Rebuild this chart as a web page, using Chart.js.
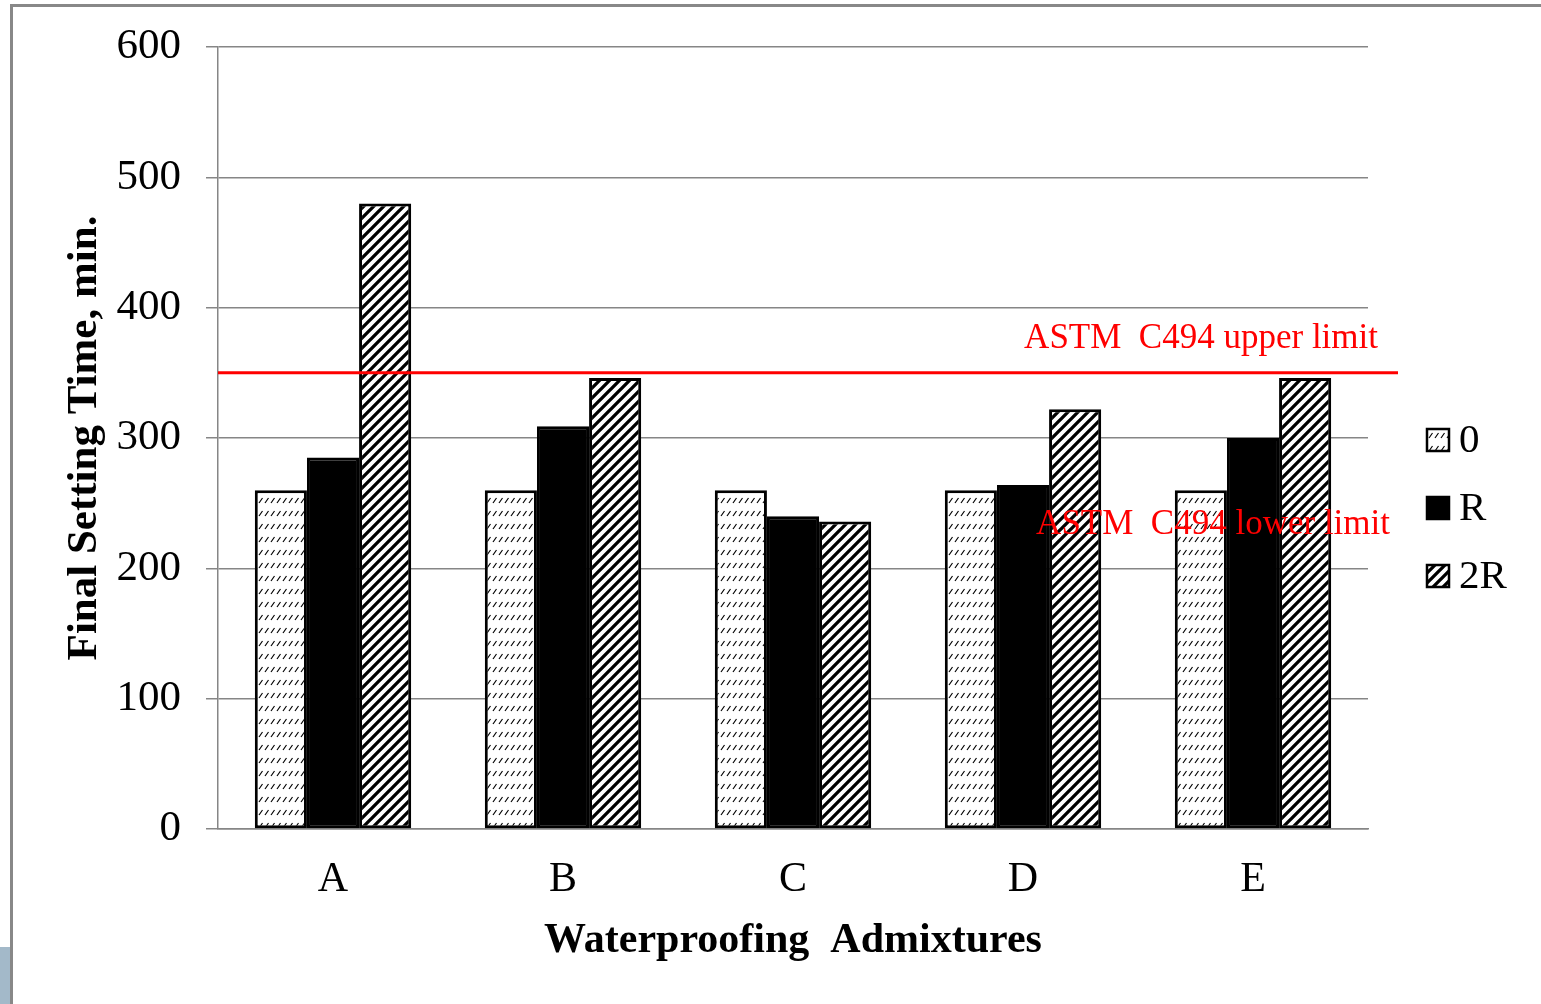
<!DOCTYPE html>
<html>
<head>
<meta charset="utf-8">
<script src="https://cdn.jsdelivr.net/npm/chart.js@4.4.0/dist/chart.umd.min.js"></script>
<style>
  body { margin: 0; background: #fff; }
  #wrap { position: relative; width: 1541px; height: 1004px; overflow: hidden; }
  #frame { position: absolute; left: 10px; top: 4px; right: -10px; bottom: -10px; border-top: 3px solid #888; border-left: 3px solid #888; }
  #tab { position: absolute; left: 0; top: 947px; width: 10px; height: 57px; background: #a3b9c9; }
  canvas { position: absolute; left: 0; top: 0; }
</style>
</head>
<body>
<div id="wrap">
  <div id="frame"></div>
  <div id="tab"></div>
  <canvas id="chart" width="1541" height="1004"></canvas>
</div>
<script>
// data
const categories = ["A", "B", "C", "D", "E"];
const seriesNames = ["0", "R", "2R"];
const values0 = [260, 260, 260, 260, 260];
const valuesR = [285, 309, 240, 264, 300];
const values2R = [480, 346, 236, 322, 346];
const yTicks = [0, 100, 200, 300, 400, 500, 600];
const upperLimit = 350;
const upperLabel = "ASTM  C494 upper limit";
const lowerLabel = "ASTM  C494 lower limit";

const serif = "'Liberation Serif', 'Times New Roman', serif";

function dashPattern() {
  const c = document.createElement("canvas");
  c.width = 6; c.height = 13;
  const g = c.getContext("2d");
  g.fillStyle = "#fff";
  g.fillRect(0, 0, 6, 13);
  g.strokeStyle = "#000";
  g.lineWidth = 1.2;
  g.beginPath();
  g.moveTo(1, 9);
  g.lineTo(4.5, 4);
  g.stroke();
  return g.createPattern(c, "repeat");
}

function stripePattern() {
  const s = 10;
  const c = document.createElement("canvas");
  c.width = s; c.height = s;
  const g = c.getContext("2d");
  g.fillStyle = "#fff";
  g.fillRect(0, 0, s, s);
  g.strokeStyle = "#000";
  g.lineWidth = 3.3;
  g.beginPath();
  g.moveTo(-2, s + 2); g.lineTo(s + 2, -2);
  g.moveTo(-2, 2); g.lineTo(2, -2);
  g.moveTo(s - 2, s + 2); g.lineTo(s + 2, s - 2);
  g.stroke();
  return g.createPattern(c, "repeat");
}

const fills = [dashPattern(), "#000", stripePattern()];

// red limit line + the two notes
const limitPlugin = {
  id: "limits",
  afterDatasetsDraw(chart) {
    const { ctx, chartArea, scales: { y } } = chart;
    const py = y.getPixelForValue(upperLimit);
    ctx.save();
    ctx.strokeStyle = "#ff0000";
    ctx.lineWidth = 3;
    ctx.beginPath();
    ctx.moveTo(chartArea.left, py);
    ctx.lineTo(chartArea.right + 30, py);
    ctx.stroke();
    ctx.fillStyle = "#ff0000";
    ctx.font = "35px " + serif;
    ctx.textAlign = "right";
    ctx.textBaseline = "alphabetic";
    ctx.fillText(upperLabel, chartArea.right + 10, py - 25);
    ctx.fillText(lowerLabel, chartArea.right + 22, py + 161);
    ctx.restore();
  }
};

// legend on the right, drawn by hand so it can sit lower than centre
const legendPlugin = {
  id: "sideLegend",
  afterDraw(chart) {
    const { ctx, chartArea } = chart;
    ctx.save();
    ctx.font = "41px " + serif;
    ctx.textBaseline = "middle";
    ctx.textAlign = "left";
    chart.data.datasets.forEach((ds, i) => {
      const cy = chartArea.top + 393 + i * 68;
      const x = chartArea.right + 59;
      ctx.fillStyle = ds.backgroundColor;
      ctx.fillRect(x, cy - 11, 22, 22);
      ctx.strokeStyle = "#000";
      ctx.lineWidth = 2.5;
      ctx.strokeRect(x, cy - 11, 22, 22);
      ctx.fillStyle = "#000";
      ctx.fillText(ds.label, x + 32, cy + 1);
    });
    ctx.restore();
  }
};

const ctx = document.getElementById("chart").getContext("2d");
new Chart(ctx, {
  type: "bar",
  data: {
    labels: categories,
    datasets: [values0, valuesR, values2R].map((vals, i) => ({
      label: seriesNames[i],
      data: vals,
      backgroundColor: fills[i],
      borderColor: "#000",
      borderWidth: 3,
      borderSkipped: false,
    })),
  },
  options: {
    responsive: false,
    animation: false,
    layout: { padding: { left: 0, right: 173, top: 47, bottom: 0 } },
    datasets: { bar: { categoryPercentage: 0.68, barPercentage: 1 } },
    plugins: { legend: { display: false }, tooltip: { enabled: false } },
    scales: {
      x: {
        grid: { display: false, drawTicks: false },
        border: { display: true, color: "#868686", width: 1.5 },
        ticks: { color: "#000", font: { family: serif, size: 42 }, padding: 26 },
        title: {
          display: true,
          text: "Waterproofing  Admixtures",
          color: "#000",
          font: { family: serif, size: 42, weight: "bold" },
          padding: { top: 0, bottom: 38 },
        },
        afterFit: (s) => { s.height = 175; },
      },
      y: {
        min: 0,
        max: 600,
        afterBuildTicks: (s) => { s.ticks = yTicks.map((v) => ({ value: v })); },
        ticks: { color: "#000", font: { family: serif, size: 43, lineHeight: 1 }, padding: 25 },
        grid: { color: "#868686", lineWidth: 1.5, tickLength: 12 },
        border: { color: "#868686", width: 1.5 },
        title: {
          display: true,
          text: "Final Setting Time, min.",
          color: "#000",
          font: { family: serif, size: 43, weight: "bold" },
          padding: { top: 59, bottom: 0 },
        },
        afterFit: (s) => { s.width = 218; },
      },
    },
  },
  plugins: [limitPlugin, legendPlugin],
});
</script>
</body>
</html>
